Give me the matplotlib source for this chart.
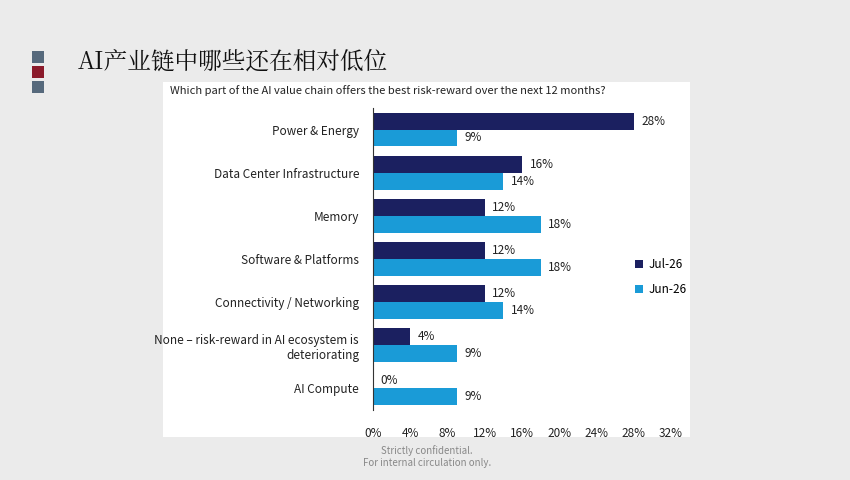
import matplotlib
matplotlib.use("Agg")
import matplotlib.pyplot as plt
import numpy as np
from matplotlib.patches import Rectangle

plt.rcParams['font.family'] = ['Noto Sans CJK SC', 'DejaVu Sans']

categories = ["Power & Energy", "Data Center Infrastructure", "Memory", "Software & Platforms",
              "Connectivity / Networking", "None – risk-reward in AI ecosystem is\ndeteriorating", "AI Compute"]
jul26 = [28, 16, 12, 12, 12, 4, 0]
jun26 = [9, 14, 18, 18, 14, 9, 9]
xticks = [0, 4, 8, 12, 16, 20, 24, 28, 32]

W, H = 850, 480
fig = plt.figure(figsize=(W/100, H/100), dpi=100)
fig.patch.set_facecolor('#ebebeb')

def fx(px): return px / W
def fy(py): return 1 - py / H

fig.patches.append(Rectangle((fx(163), fy(437)), (690-163)/W, (437-82)/H, zorder=-10,
                             transform=fig.transFigure, facecolor='white', edgecolor='none'))
for y, c in [(57, '#56697c'), (72, '#8b1a2b'), (87, '#56697c')]:
    fig.patches.append(Rectangle((fx(32), fy(y+6)), 12/W, 12/H, transform=fig.transFigure,
                                 facecolor=c, edgecolor='none', zorder=-10))
fig.text(fx(78), fy(62), "AI产业链中哪些还在相对低位", fontsize=17, va='center', ha='left', color='#111111',
         family=['Noto Serif CJK SC', 'Noto Sans CJK SC', 'DejaVu Sans'])
fig.text(fx(170), fy(91), "Which part of the AI value chain offers the best risk-reward over the next 12 months?",
         fontsize=8, va='center', ha='left', color='#222222')
fig.text(fx(427), fy(451), "Strictly confidential.", fontsize=7, ha='center', va='center', color='#888888')
fig.text(fx(427), fy(463), "For internal circulation only.", fontsize=7, ha='center', va='center', color='#888888')

ax = fig.add_axes([fx(373), fy(410), (671-373)/W, (410-108)/H])
ax.set_facecolor('none')
n = len(categories)
y = np.arange(n)
h = 0.39
navy, blue = '#1b2060', '#1a9bd7'
ax.barh(y - h/2, jul26, height=h, color=navy, label='Jul-26')
ax.barh(y + h/2, jun26, height=h, color=blue, label='Jun-26')
for i in range(n):
    ax.text(jul26[i] + 0.8, y[i] - h/2, f"{jul26[i]}%", va='center', fontsize=8.5, color='#222222')
    ax.text(jun26[i] + 0.8, y[i] + h/2, f"{jun26[i]}%", va='center', fontsize=8.5, color='#222222')
ax.set_ylim(n - 0.5, -0.5)
ax.set_xlim(0, 32)
ax.set_yticks(y)
ax.set_yticklabels(categories, fontsize=8.5, color='#222222')
ax.set_xticks(xticks)
ax.set_xticklabels([f"{t}%" for t in xticks], fontsize=8.5, color='#222222')
ax.tick_params(length=0, axis='y', pad=10)
ax.tick_params(length=0, axis='x', pad=12)
for s in ['top', 'right', 'bottom']:
    ax.spines[s].set_visible(False)
ax.spines['left'].set_color('#333333')
ax.legend(loc='center left', bbox_to_anchor=(0.845, 0.44), frameon=False, fontsize=8.5,
          handlelength=0.6, handleheight=0.6, labelspacing=1.0, handletextpad=0.5)
fig.savefig("out.png", dpi=100, facecolor=fig.get_facecolor())
